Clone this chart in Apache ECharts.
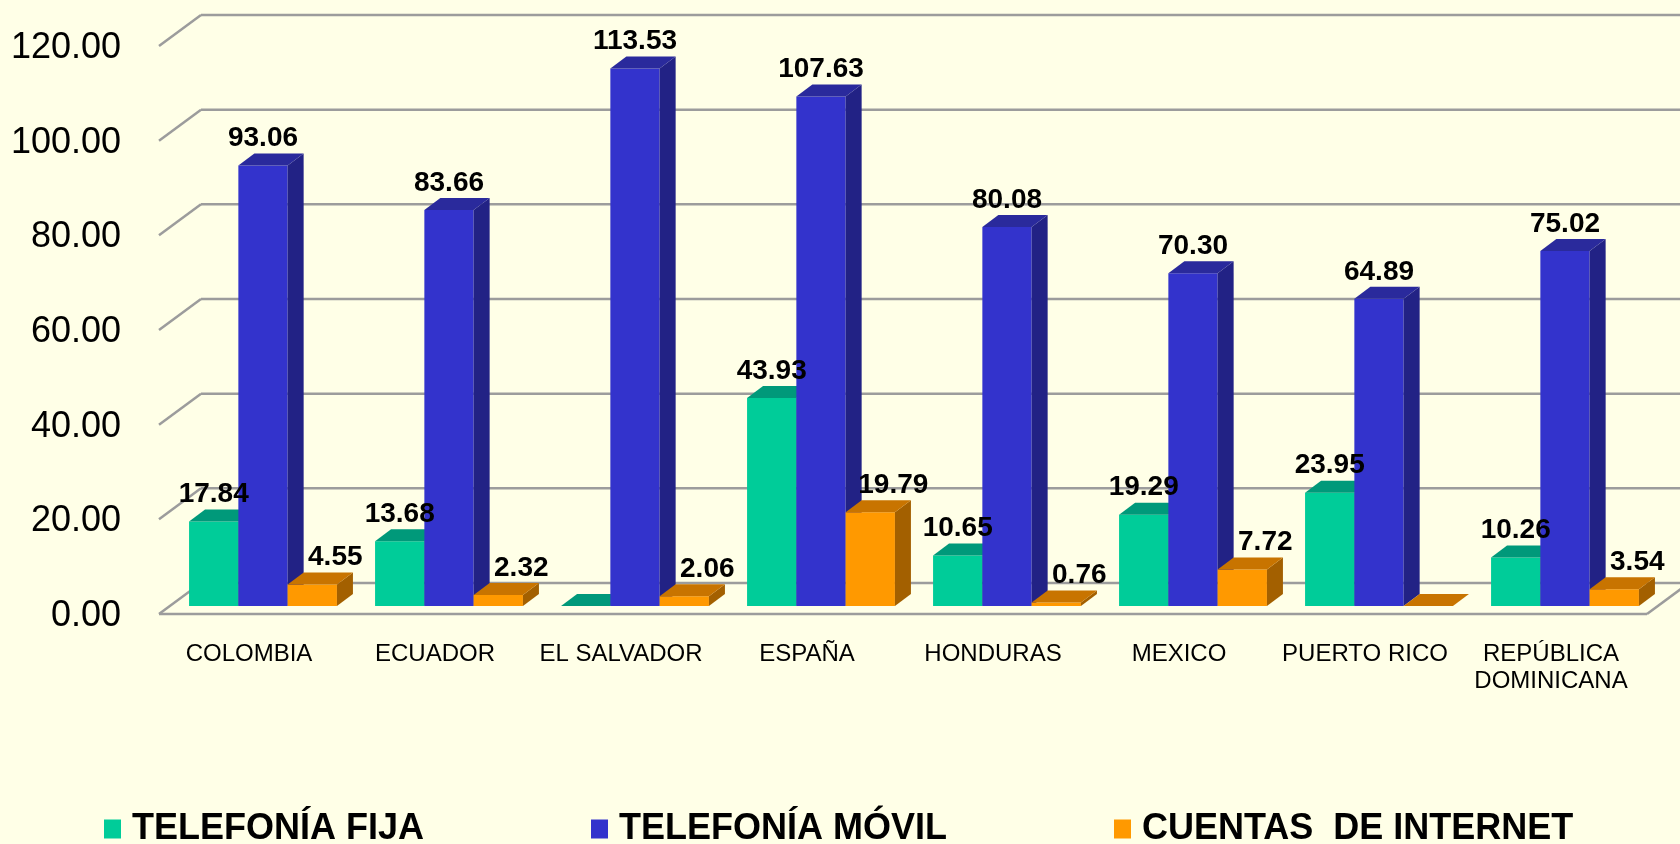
<!DOCTYPE html>
<html>
<head>
<meta charset="utf-8">
<script src="https://cdn.jsdelivr.net/npm/echarts@6/dist/echarts.min.js"></script>
<style>
  html, body { margin: 0; padding: 0; background: #FFFFE7; }
  #chart { width: 1680px; height: 844px; }
</style>
</head>
<body>
<div id="chart"></div>
<script>
const categories = ["COLOMBIA", "ECUADOR", "EL SALVADOR", "ESPAÑA", "HONDURAS", "MEXICO", "PUERTO RICO", "REPÚBLICA\nDOMINICANA"];
const telefoniaFija = [17.84, 13.68, 0, 43.93, 10.65, 19.29, 23.95, 10.26];
const telefoniaMovil = [93.06, 83.66, 113.53, 107.63, 80.08, 70.30, 64.89, 75.02];
const cuentasInternet = [4.55, 2.32, 2.06, 19.79, 0.76, 7.72, 0, 3.54];
const yTicks = [0, 20, 40, 60, 80, 100, 120];

const seriesNames = ["TELEFONÍA FIJA", "TELEFONÍA MÓVIL", "CUENTAS  DE INTERNET"];

// front / top / side face colours for each series
const faces = [
    { front: "#00CC99", top: "#00997A", side: "#008866" },
    { front: "#3333CC", top: "#2A2A9C", side: "#222285" },
    { front: "#FF9900", top: "#C87400", side: "#A36000" },
];

// bar plane -> front edge / back wall offsets of the fake 3D box
const FRONT = [-11, 8];
const BACK = [31, -23];
const DEPTH = [16, -12];
const LABEL_SHIFT = [0, 0, 23];
const FONT = "'Liberation Sans', Arial, sans-serif";

const chart = echarts.init(document.getElementById("chart"));

const renderWall = (params, api) => {
    const cs = params.coordSys;
    const v = api.value(1);
    const y = api.coord([0, v])[1];
    const left = cs.x;
    const right = cs.x + cs.width;
    const line = { stroke: "#9C9C9C", lineWidth: 2.5 };
    const children = [
        { type: "line", shape: { x1: left + BACK[0], y1: y + BACK[1], x2: right + BACK[0] + 40, y2: y + BACK[1] }, style: line },
        { type: "line", shape: { x1: left + FRONT[0], y1: y + FRONT[1], x2: left + BACK[0], y2: y + BACK[1] }, style: line },
    ];
    if (v === 0) {
        children.push({ type: "line", shape: { x1: left + FRONT[0], y1: y + FRONT[1], x2: right + FRONT[0], y2: y + FRONT[1] }, style: line });
        children.push({ type: "line", shape: { x1: right + FRONT[0], y1: y + FRONT[1], x2: right + BACK[0], y2: y + BACK[1] }, style: line });
    }
    return { type: "group", children };
};

const makeBar = (idx) => (params, api) => {
    const value = api.value(1);
    const base = api.coord([api.value(0), 0]);
    const topPt = api.coord([api.value(0), value]);
    const band = api.size([1, 0])[0];
    const w = band * 0.265;
    const x0 = base[0] + (idx - 1.5) * w;
    const x1 = x0 + w;
    const yb = base[1];
    const yt = topPt[1];
    const [dx, dy] = DEPTH;
    const c = faces[idx];
    const children = [];
    if (value > 0) {
        children.push({ type: "rect", shape: { x: x0, y: yt, width: w, height: yb - yt }, style: { fill: c.front } });
        children.push({ type: "polygon", shape: { points: [[x1, yt], [x1 + dx, yt + dy], [x1 + dx, yb + dy], [x1, yb]] }, style: { fill: c.side } });
    }
    children.push({ type: "polygon", shape: { points: [[x0, yt], [x0 + dx, yt + dy], [x1 + dx, yt + dy], [x1, yt]] }, style: { fill: c.top } });
    if (value > 0) {
        children.push({
            type: "text",
            z2: 100,
            style: {
                x: (x0 + x1) / 2 + LABEL_SHIFT[idx],
                y: yt - 13,
                text: value.toFixed(2),
                align: "center",
                verticalAlign: "bottom",
                font: "bold 28px " + FONT,
                fill: "#000",
            },
        });
    }
    return { type: "group", children };
};

const toPoints = (arr) => arr.map((v, i) => [i, v]);

const options = {
    backgroundColor: "#FFFFE7",
    animation: false,
    grid: { left: 170, right: 22, top: 38, bottom: 238 },
    legend: {
        data: seriesNames,
        left: 104,
        top: 811,
        padding: 0,
        icon: "rect",
        itemWidth: 17,
        itemHeight: 19,
        itemGap: 167,
        textStyle: {
            fontFamily: FONT,
            fontWeight: "bold",
            fontSize: 36,
            color: "#000",
            padding: [0, 0, 0, 6],
        },
    },
    xAxis: {
        type: "category",
        data: categories,
        axisLine: { show: false },
        axisTick: { show: false },
        splitLine: { show: false },
        axisLabel: {
            interval: 0,
            margin: 35,
            fontSize: 24,
            lineHeight: 27,
            color: "#000",
            fontFamily: FONT,
            padding: [0, 28, 0, 0],
        },
    },
    yAxis: {
        type: "value",
        min: 0,
        max: 120,
        interval: 20,
        axisLine: { show: false },
        axisTick: { show: false },
        splitLine: { show: false },
        axisLabel: {
            margin: 49,
            fontSize: 36,
            lineHeight: 20,
            verticalAlign: "top",
            color: "#000",
            fontFamily: FONT,
            formatter: (v) => v.toFixed(2),
        },
    },
    series: [
        {
            type: "custom",
            name: "walls",
            renderItem: renderWall,
            data: yTicks.map((v) => [0, v]),
            encode: { x: 0, y: 1 },
            silent: true,
            z: 1,
        },
        ...[telefoniaFija, telefoniaMovil, cuentasInternet].map((arr, idx) => ({
            type: "custom",
            name: seriesNames[idx],
            renderItem: makeBar(idx),
            data: toPoints(arr),
            encode: { x: 0, y: 1 },
            itemStyle: { color: faces[idx].front },
            z: 2,
        })),
    ],
};

chart.setOption(options);
</script>
</body>
</html>
